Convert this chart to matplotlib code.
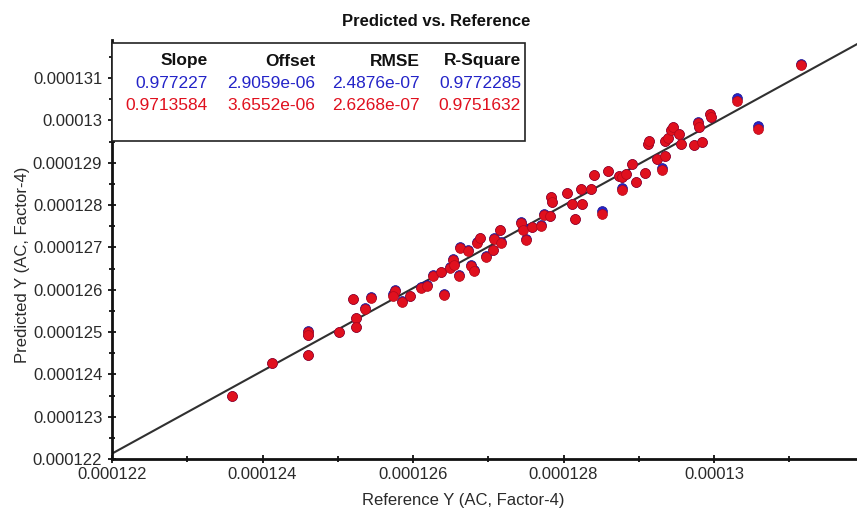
import numpy as np
import matplotlib
matplotlib.use('Agg')
import matplotlib.pyplot as plt
from matplotlib.ticker import MultipleLocator, FuncFormatter
from matplotlib.patches import Rectangle

# Values, in units of 1e-6
reference = np.array([
    123.60, 124.13, 124.60, 124.60, 124.60, 125.01, 125.20, 125.24, 125.24, 125.36,
    125.44, 125.76, 125.74, 125.86, 125.96, 126.10, 126.19, 126.27, 126.37, 126.41,
    126.49, 126.53, 126.55, 126.61, 126.63, 126.73, 126.77, 126.81, 126.85, 126.89,
    126.97, 127.06, 127.07, 127.15, 127.17, 127.43, 127.46, 127.50, 127.58, 127.70,
    127.74, 127.82, 127.83, 127.85, 128.05, 128.11, 128.15, 128.23, 128.25, 128.37,
    128.41, 128.51, 128.59, 128.74, 128.78, 128.83, 128.78, 128.91, 128.96, 129.08,
    129.12, 129.14, 129.24, 129.31, 129.35, 129.35, 129.39, 129.43, 129.46, 129.54,
    129.56, 129.74, 129.84, 129.79, 129.80, 129.94, 129.96, 130.31, 130.58, 131.15]) * 1e-6

pred_validation = np.array([
    123.48, 124.26, 125.01, 124.92, 124.45, 124.99, 125.77, 125.32, 125.11, 125.55,
    125.81, 125.98, 125.84, 125.72, 125.84, 126.05, 126.09, 126.33, 126.42, 125.88,
    126.52, 126.71, 126.59, 126.33, 126.99, 126.92, 126.57, 126.45, 127.11, 127.22,
    126.78, 126.94, 127.20, 127.41, 127.11, 127.58, 127.41, 127.18, 127.48, 127.51,
    127.77, 127.74, 128.19, 128.07, 128.28, 128.02, 127.67, 128.38, 128.02, 128.38,
    128.71, 127.79, 128.80, 128.68, 128.66, 128.73, 128.35, 128.97, 128.54, 128.75,
    129.44, 129.51, 129.08, 128.82, 129.15, 129.51, 129.58, 129.77, 129.84, 129.67,
    129.44, 129.41, 129.48, 129.95, 129.84, 130.14, 130.07, 130.45, 129.79, 131.32]) * 1e-6

pred_calibration = np.array([
    123.49, 124.27, 125.02, 124.93, 124.46, 125.00, 125.78, 125.33, 125.12, 125.56,
    125.82, 125.99, 125.90, 125.73, 125.85, 126.06, 126.10, 126.34, 126.43, 125.89,
    126.53, 126.72, 126.60, 126.34, 127.00, 126.93, 126.58, 126.46, 127.12, 127.23,
    126.79, 126.95, 127.21, 127.42, 127.12, 127.59, 127.47, 127.19, 127.49, 127.52,
    127.78, 127.75, 128.20, 128.08, 128.29, 128.03, 127.68, 128.39, 128.03, 128.39,
    128.72, 127.85, 128.81, 128.69, 128.67, 128.74, 128.41, 128.98, 128.55, 128.76,
    129.45, 129.52, 129.09, 128.88, 129.16, 129.52, 129.59, 129.78, 129.85, 129.68,
    129.45, 129.42, 129.49, 129.96, 129.85, 130.15, 130.08, 130.52, 129.86, 131.33]) * 1e-6

headers = ['Slope', 'Offset', 'RMSE', 'R-Square']
stats_calibration = ['0.977227', '2.9059e-06', '2.4876e-07', '0.9772285']
stats_validation = ['0.9713584', '3.6552e-06', '2.6268e-07', '0.9751632']
slope_cal = 0.977227
offset_cal = 2.9059e-06

x_range = [0.000122, 0.0001319]
y_range = [0.000122, 0.0001319]

plt.rcParams['font.family'] = ['Liberation Sans', 'DejaVu Sans']

blue = '#2424c8'
red = '#e0101e'

fig = plt.figure(figsize=[8.57, 5.15], dpi=100)
ax = fig.add_axes([112/857, 1 - 459/515, 745/857, 419/515])

# Fit line of the calibration set
line_x = np.array(x_range)
ax.plot(line_x, slope_cal*line_x + offset_cal, color='#303030', lw=1.5, zorder=2)

# Calibration (blue) sits under validation (red)
ax.scatter(reference, pred_calibration, s=50, color=blue, edgecolors='#1c1290',
           linewidths=0.5, zorder=3)
ax.scatter(reference, pred_validation, s=50, color=red, edgecolors='#b0081a',
           linewidths=0.5, zorder=4)

ax.set_xlim(x_range)
ax.set_ylim(y_range)

fmt = FuncFormatter(lambda v, p: '0.00013' if abs(v - 0.00013) < 1e-12 else '%.6g' % v)
ax.xaxis.set_major_locator(MultipleLocator(2e-6))
ax.xaxis.set_minor_locator(MultipleLocator(1e-6))
ax.yaxis.set_major_locator(MultipleLocator(1e-6))
ax.yaxis.set_minor_locator(MultipleLocator(0.5e-6))
ax.xaxis.set_major_formatter(fmt)
ax.yaxis.set_major_formatter(fmt)
ax.tick_params(which='both', direction='inout', length=6, width=1.4, color='#222222',
               labelsize=12, labelcolor='#2a2a2a')
ax.tick_params(which='minor', length=5)
ax.tick_params(axis='x', pad=3)
ax.tick_params(axis='y', pad=4)

for side in ['top', 'right']:
    ax.spines[side].set_visible(False)
for side in ['left', 'bottom']:
    ax.spines[side].set_linewidth(2)
    ax.spines[side].set_color('#111111')

ax.set_xlabel('Reference Y (AC, Factor-4)', fontsize=12, color='#2a2a2a')
ax.set_ylabel('Predicted Y (AC, Factor-4)', fontsize=12, color='#2a2a2a')
ax.xaxis.set_label_coords(0.471, -0.082)
ax.yaxis.set_label_coords(-0.11, 0.463)

fig.text(436/857, 1 - 22/515, 'Predicted vs. Reference', ha='center', va='center',
         fontsize=12, fontweight='bold', color='#111111')

# Statistics box
box = Rectangle((0, (459 - 141)/419), (525 - 112)/745, (141 - 43)/419,
                transform=ax.transAxes, facecolor='white', edgecolor='#222222',
                lw=1.2, zorder=5, clip_on=False)
ax.add_patch(box)
col_right = [208, 315, 420, 521]
row_y = [61, 83, 106]
rows = [(headers, '#111111'), (stats_calibration, blue), (stats_validation, red)]
for (texts, color), ry in zip(rows, row_y):
    for t, cx in zip(texts, col_right):
        ax.text((cx - 112)/745, (459 - ry)/419, t, transform=ax.transAxes,
                ha='right', va='center', fontsize=12.5, color=color, zorder=6,
                fontweight='bold' if color == '#111111' else 'normal')

fig.savefig('out.png', dpi=100)
